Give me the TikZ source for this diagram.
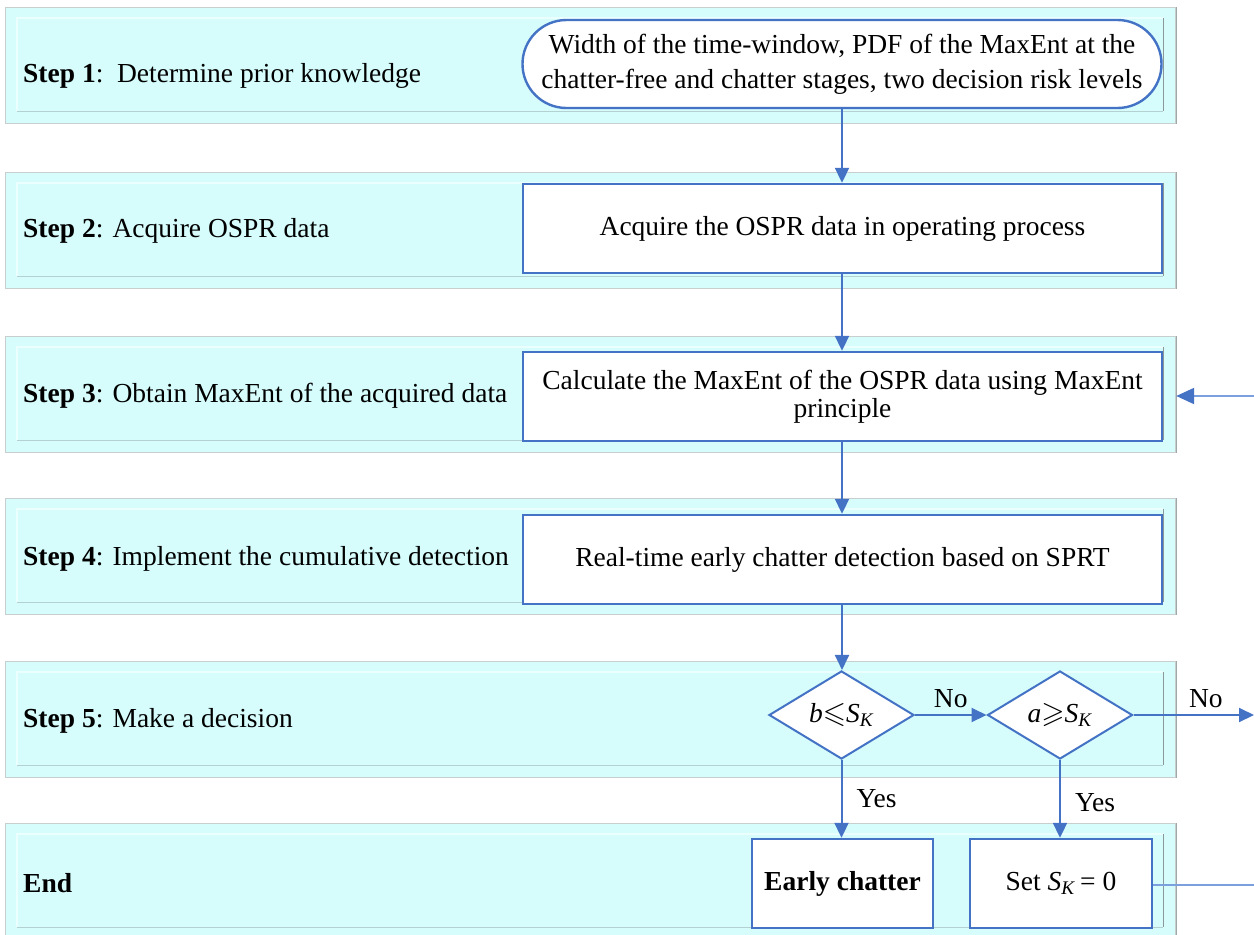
\documentclass[tikz,border=0pt]{standalone}
\usepackage{amssymb}
\usepackage{fontspec}
\setmainfont{Liberation Serif}
\usetikzlibrary{shapes.geometric,arrows.meta}
\definecolor{bandfill}{RGB}{214,252,252}
\definecolor{bandline}{RGB}{200,206,206}
\definecolor{banddark}{RGB}{140,152,152}
\definecolor{bevellight}{RGB}{236,255,255}
\definecolor{bevelmid}{RGB}{180,208,208}
\definecolor{flowblue}{RGB}{68,114,196}
\definecolor{lightblue}{RGB}{122,160,222}
\newcommand{\relsym}[1]{{\fontsize{30}{30}\selectfont$#1$}}
\tikzset{
  bandouter/.style={draw=bandline, fill=bandfill, line width=1.2bp, anchor=north west, inner sep=0pt, minimum width=1170bp, minimum height=116bp},
  bandinner/.style={fill=bandfill, anchor=north west, inner sep=0pt, minimum width=1146bp, minimum height=93bp},
  steplabel/.style={anchor=base west, inner sep=0pt},
  procbox/.style={draw=flowblue, fill=white, line width=2.4bp, minimum width=639bp, minimum height=89bp, inner sep=0pt},
  decision/.style={draw=flowblue, fill=white, line width=2bp, diamond, minimum width=145bp, minimum height=88bp, inner sep=0pt},
  flow/.style={draw=flowblue, line width=2bp, -{Triangle[length=15bp,width=14bp]}},
  inflow/.style={draw=lightblue, line width=2.2bp},
  lbl/.style={inner sep=0pt, anchor=base}
}
\begin{document}
\begin{tikzpicture}[x=1bp,y=-1bp, font=\fontsize{27.6}{33}\selectfont]
\useasboundingbox (0,0) rectangle (1254,935);
\begin{scope}
\clip (0,0) rectangle (1254,935);
% bands
\foreach \t/\n in {7/1,172/2,336/3,498/4,661/5,823/6}{
  \node[bandouter] (band\n) at (5,\t) {};
  \node[bandinner] (inner\n) at (17,\t+11) {};
  \draw[bevellight, line width=1.2bp] (inner\n.south west) -- (inner\n.north west) -- (inner\n.north east);
  \draw[bevelmid, line width=1.4bp] (inner\n.south west) -- (inner\n.south east);
  \draw[banddark, line width=1.4bp] (inner\n.north east) -- (inner\n.south east);
  \draw[banddark!70!bandline, line width=1.4bp] (band\n.north east) -- (band\n.south east);
}
\end{scope}

% step labels
\node[steplabel] (s1) at (23,82) {\textbf{Step 1}:\ \ Determine prior knowledge};
\node[steplabel] (s2) at (23,237) {\textbf{Step 2}: Acquire OSPR data};
\node[steplabel] (s3) at (23,402) {\textbf{Step 3}: Obtain MaxEnt of the acquired data};
\node[steplabel] (s4) at (23,565) {\textbf{Step 4}: Implement the cumulative detection};
\node[steplabel] (s5) at (23,727) {\textbf{Step 5}: Make a decision};
\node[steplabel] (s6) at (23,892) {\textbf{End}};

% process boxes
\node[procbox, rounded corners=44bp, minimum height=88bp, align=center,
      font=\fontsize{27.6}{35}\selectfont] (p1) at (842,64)
  {Width of the time-window, PDF of the MaxEnt at the\\chatter-free and chatter stages, two decision risk levels};
\node[procbox] (p2) at (842.5,228.5) {Acquire the OSPR data in operating process};
\node[procbox, align=center, font=\fontsize{27.6}{28}\selectfont] (p3) at (842.5,396.5)
  {Calculate the MaxEnt of the OSPR data using MaxEnt\\principle};
\node[procbox] (p4) at (842.5,559.5) {Real-time early chatter detection based on SPRT};

% decisions
\node[decision] (d1) at (841.5,715) {\textit{b}\relsym{\leqslant}\textit{S}\textsubscript{\textit{K}}};
\node[decision] (d2) at (1060,715) {\textit{a}\relsym{\geqslant}\textit{S}\textsubscript{\textit{K}}};

% end boxes
\node[procbox, minimum width=181bp, minimum height=89bp] (e1) at (842.5,883.5) {\textbf{Early chatter}};
\node[procbox, minimum width=182bp, minimum height=89bp] (e2) at (1061,883.5) {Set \textit{S}\textsubscript{\textit{K}}\,= 0};

% free ends
\coordinate (r3) at (1254,396);
\coordinate (rno) at (1254,715);
\coordinate (r6) at (1254,885);

% connectors
\draw[flow] (p1.south -| 842,0) -- (p2.north -| 842,0);
\draw[flow] (p2.south -| 842,0) -- (p3.north -| 842,0);
\draw[flow] (p3.south -| 842,0) -- (p4.north -| 842,0);
\draw[flow] (p4.south -| 842,0) -- (d1.north -| 842,0);
\draw[flow] (d1.east) -- node[lbl, above=6bp] {No} (d2.west);
\draw[flow] (d2.east) -- node[lbl, above=6bp, pos=0.6] {No} (rno);
\draw[flow] (d1.south) -- node[lbl, right=14bp, pos=0.5] {Yes} (e1.north -| d1.south);
\draw[flow] (d2.south) -- node[lbl, right=14bp, pos=0.55] {Yes} (e2.north -| d2.south);
\draw[inflow, -{Triangle[length=18bp,width=16bp,color=flowblue]}] (r3) -- (band3.east |- r3);
\draw[inflow] (r6) -- (e2.east |- r6);
\end{tikzpicture}
\end{document}
